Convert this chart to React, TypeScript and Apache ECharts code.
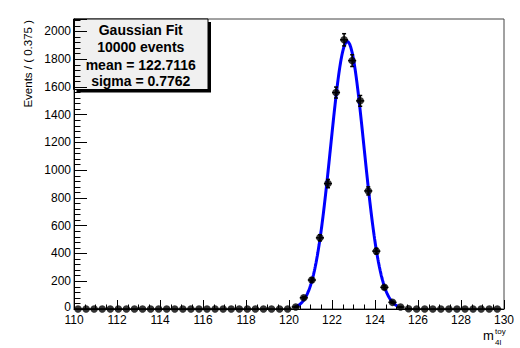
import React, { useEffect, useRef } from "react";
import * as echarts from "echarts";

// Histogram binning of the toy m4l sample
const binLow = 110;
const binWidth = 0.375;
const counts = [
  0, 0, 0, 0, 0, 0, 0, 0, 0, 0,
  0, 0, 0, 0, 0, 0, 0, 0, 0, 0,
  0, 0, 0, 0, 0, 0, 0, 15, 81, 209,
  513, 904, 1560, 1940, 1790, 1500, 851, 417, 156, 48,
  14, 2, 0, 0, 0, 0, 0, 0, 0, 0,
  0, 0, 0,
];

// Fit results shown in the stats box
const nEvents = 10000;
const fitMean = 122.7116;
const fitSigma = 0.7762;
const curveFrom = 120.3;
const curveTo = 125.05;

const statsLines = [
  "Gaussian Fit",
  `${nEvents} events`,
  `mean = ${fitMean.toFixed(4)}`,
  `sigma = ${fitSigma.toFixed(4)}`,
];

// Axis ranges and ticks
const xMin = 110;
const xMax = 130;
const xStep = 2;
const yMin = 0;
const yMax = 2090;
const yStep = 200;
const yMinorStep = 40;

const FONT = "'Liberation Sans', Arial, Helvetica, sans-serif";

export default function App() {
  const ref = useRef<HTMLDivElement>(null);

  useEffect(() => {
    document.body.style.margin = "0";
    if (!ref.current) return;
    const chart = echarts.init(ref.current, undefined, { renderer: "svg" });

    const centers = counts.map((_, i) => binLow + (i + 0.5) * binWidth);
    const points = counts.map((c, i) => [centers[i], c, Math.sqrt(c)]);

    // Gaussian fit curve, normalised to the event count per bin
    const amp = (nEvents * binWidth) / (fitSigma * Math.sqrt(2 * Math.PI));
    const curve: number[][] = [];
    for (let x = curveFrom; x <= curveTo + 1e-9; x += 0.02) {
      const z = (x - fitMean) / fitSigma;
      curve.push([x, amp * Math.exp(-0.5 * z * z)]);
    }

    const halfBin = binWidth / 2;

    const statsChildren: any[] = [
      {
        type: "rect",
        shape: { x: 76.5, y: 22, width: 134.5, height: 70.5 },
        style: { fill: "#000" },
      },
      {
        type: "rect",
        shape: { x: 73.5, y: 19, width: 134.5, height: 70.5 },
        style: { fill: "#f0f0f0", stroke: "#000", lineWidth: 1 },
      },
    ];
    const lineY = [29.5, 46.5, 64.5, 81];
    statsLines.forEach((t, i) => {
      statsChildren.push({
        type: "text",
        x: 140.75,
        y: lineY[i],
        style: {
          text: t,
          fill: "#000",
          font: `bold 14px ${FONT}`,
          textAlign: "center",
          textVerticalAlign: "middle",
        },
      });
    });

    const option: any = {
      animation: false,
      backgroundColor: "#fff",
      grid: {
        left: 74,
        right: 16,
        top: 19,
        bottom: 39,
        show: true,
        borderColor: "#444",
        borderWidth: 1,
        backgroundColor: "transparent",
      },
      xAxis: {
        type: "value",
        min: xMin,
        max: xMax,
        interval: xStep,
        axisLine: { show: true, lineStyle: { color: "#000", width: 1 } },
        axisTick: { show: true, inside: true, length: 9, lineStyle: { color: "#000" } },
        minorTick: { show: true, splitNumber: 4, length: 4.5, lineStyle: { color: "#000" } },
        splitLine: { show: false },
        axisLabel: { color: "#000", fontSize: 12, fontFamily: FONT, margin: 5 },
      },
      yAxis: [
        {
          type: "value",
          min: yMin,
          max: yMax,
          interval: yStep,
          position: "left",
          axisLine: { show: true, lineStyle: { color: "#000", width: 1 } },
          axisTick: { show: true, inside: true, length: 13, lineStyle: { color: "#000" } },
          minorTick: { show: false },
          splitLine: { show: false },
          axisLabel: {
            color: "#000",
            fontSize: 12,
            fontFamily: FONT,
            margin: 3,
            formatter: (v: number) =>
              v === 0 ? "{zero|0}" : v % yStep === 0 ? String(v) : "",
            rich: {
              zero: { fontSize: 12, fontFamily: FONT, color: "#000", padding: [0, 0, 5, 0] },
            },
          },
        },
        {
          type: "value",
          min: yMin,
          max: yMax,
          interval: yMinorStep,
          position: "left",
          axisLine: { show: false },
          axisTick: { show: true, inside: true, length: 6.5, lineStyle: { color: "#000" } },
          axisLabel: { show: false },
          splitLine: { show: false },
        },
      ],
      series: [
        {
          type: "line",
          data: curve,
          yAxisIndex: 0,
          showSymbol: false,
          symbol: "none",
          lineStyle: { color: "#0000ff", width: 3 },
          z: 2,
          clip: false,
        },
        {
          type: "custom",
          data: points,
          yAxisIndex: 0,
          z: 3,
          clip: false,
          renderItem: (params: any, api: any) => {
            const x = api.value(0);
            const y = api.value(1);
            const e = api.value(2);
            const c = api.coord([x, y]);
            const lo = api.coord([x, y - e]);
            const hi = api.coord([x, y + e]);
            const l = api.coord([x - halfBin, y]);
            const r = api.coord([x + halfBin, y]);
            const style = { stroke: "#000", lineWidth: 1.5 };
            const children: any[] = [
              { type: "line", shape: { x1: l[0], y1: c[1], x2: r[0], y2: c[1] }, style },
            ];
            if (e > 0) {
              children.push(
                { type: "line", shape: { x1: c[0], y1: lo[1], x2: c[0], y2: hi[1] }, style },
                { type: "line", shape: { x1: c[0] - 2, y1: hi[1], x2: c[0] + 2, y2: hi[1] }, style },
                { type: "line", shape: { x1: c[0] - 2, y1: lo[1], x2: c[0] + 2, y2: lo[1] }, style }
              );
            }
            return { type: "group", children };
          },
        },
        {
          type: "scatter",
          data: points.map((p) => [p[0], p[1]]),
          yAxisIndex: 0,
          symbol: "circle",
          symbolSize: 7.5,
          itemStyle: { color: "#000" },
          z: 4,
          clip: false,
        },
      ],
      graphic: [
        {
          type: "text",
          x: 28,
          y: 20,
          rotation: Math.PI / 2,
          style: {
            text: "Events / ( 0.375 )",
            fill: "#000",
            font: `11.5px ${FONT}`,
            textAlign: "right",
            textVerticalAlign: "middle",
          },
        },
        {
          type: "text",
          x: 483,
          y: 342,
          style: { text: "m", fill: "#000", font: `13px ${FONT}`, textAlign: "left", textVerticalAlign: "bottom" },
        },
        {
          type: "text",
          x: 495,
          y: 335,
          style: { text: "toy", fill: "#000", font: `8px ${FONT}`, textAlign: "left", textVerticalAlign: "bottom" },
        },
        {
          type: "text",
          x: 495,
          y: 346,
          style: { text: "4l", fill: "#000", font: `8px ${FONT}`, textAlign: "left", textVerticalAlign: "bottom" },
        },
        { type: "group", z: 100, children: statsChildren },
      ],
    };

    chart.setOption(option);
    return () => chart.dispose();
  }, []);

  return <div ref={ref} style={{ width: 520, height: 348 }} />;
}
